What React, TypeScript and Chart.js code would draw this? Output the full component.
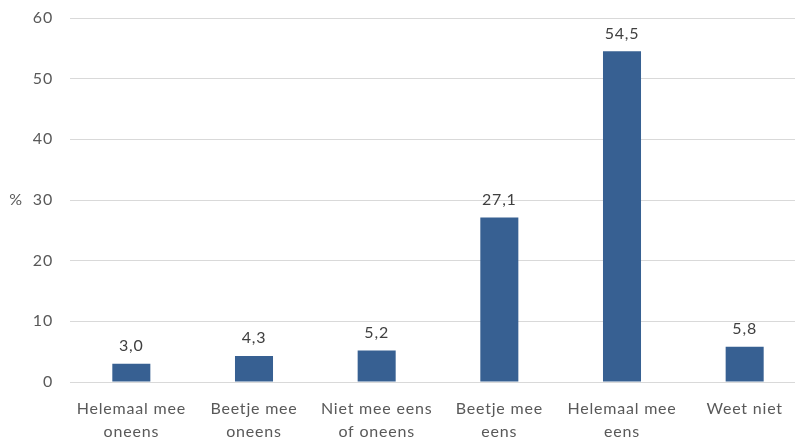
import React, { useEffect, useRef } from "react";
import { Chart, registerables } from "chart.js";
Chart.register(...registerables);

const categories: (string | string[])[] = [
  ["Helemaal mee", "oneens"],
  ["Beetje mee", "oneens"],
  ["Niet mee eens", "of oneens"],
  ["Beetje mee", "eens"],
  ["Helemaal mee", "eens"],
  "Weet niet",
];
const values = [3.0, 4.3, 5.2, 27.1, 54.5, 5.8];
const yMin = 0;
const yMax = 60;
const yStep = 10;
const yAxisTitle = "%";

const FONT = "Lato, 'Open Sans', sans-serif";
const TEXT = "#595959";
const GRID = "#d9d9d9";
const BAR = "#376092";

export default function App() {
  const ref = useRef<HTMLCanvasElement | null>(null);
  useEffect(() => {
    if (!ref.current) return;
    const labelPlugin = {
      id: "valueLabels",
      beforeDraw(chart: any) {
        try {
          chart.ctx.letterSpacing = "0.8px";
        } catch (e) {}
      },
      afterDatasetsDraw(chart: any) {
        const ctx = chart.ctx;
        const meta = chart.getDatasetMeta(0);
        ctx.save();
        ctx.font = `16px ${FONT}`;
        ctx.fillStyle = "#404040";
        ctx.textAlign = "center";
        ctx.textBaseline = "middle";
        meta.data.forEach((el: any, i: number) => {
          ctx.fillText(values[i].toFixed(1).replace(".", ","), el.x, el.y - 18);
        });
        ctx.restore();
      },
      afterDraw(chart: any) {
        const ctx = chart.ctx;
        const y = chart.scales.y.getPixelForValue(30);
        ctx.save();
        ctx.font = `16px ${FONT}`;
        ctx.fillStyle = TEXT;
        ctx.textAlign = "center";
        ctx.textBaseline = "middle";
        ctx.fillText(yAxisTitle, 16, y);
        ctx.restore();
      },
    };
    const chart = new Chart(ref.current, {
      type: "bar",
      data: {
        labels: categories,
        datasets: [
          {
            data: values,
            backgroundColor: BAR,
            borderWidth: 0,
            barPercentage: 0.31,
            categoryPercentage: 1,
          },
        ],
      },
      options: {
        responsive: false,
        animation: false,
        devicePixelRatio: 1,
        layout: { padding: { top: 18, right: 14, left: 0, bottom: 0 } },
        plugins: { legend: { display: false }, tooltip: { enabled: false } },
        scales: {
          x: {
            grid: { display: false },
            border: { display: true, color: GRID, width: 1 },
            ticks: {
              color: TEXT,
              font: { family: FONT, size: 16, lineHeight: 1.45 },
              padding: 7,
              maxRotation: 0,
              autoSkip: false,
            },
            afterFit: (s: any) => {
              s.height = 57;
              s.paddingLeft = 0;
              s.paddingRight = 0;
            },
          },
          y: {
            min: yMin,
            max: yMax,
            grid: { color: GRID, drawTicks: false, lineWidth: 1 },
            border: { display: false },
            ticks: {
              stepSize: yStep,
              color: TEXT,
              font: { family: FONT, size: 16 },
              padding: 17,
            },
            afterFit: (s: any) => {
              s.width = 70;
              s.paddingTop = 0;
              s.paddingBottom = 0;
            },
          },
        },
      },
      plugins: [labelPlugin],
    });
    return () => chart.destroy();
  }, []);
  return (
    <div
      style={{
        position: "fixed",
        left: 0,
        top: 0,
        width: 795,
        height: 439,
        overflow: "hidden",
        background: "#fff",
      }}
    >
      <canvas ref={ref} width={820} height={439} />
    </div>
  );
}
